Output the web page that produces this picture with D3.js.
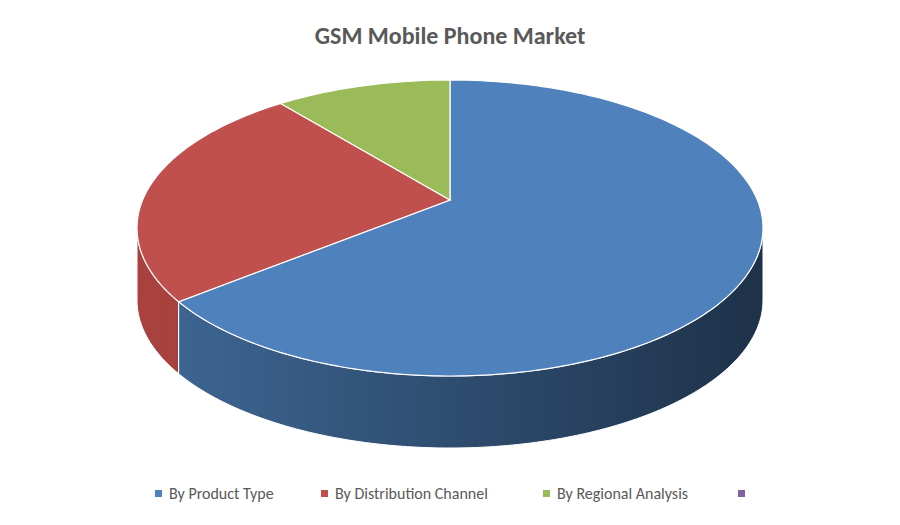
<!DOCTYPE html>
<html><head><meta charset="utf-8">
<script src="https://cdn.jsdelivr.net/npm/d3@7"></script>
<style>body{margin:0;background:#fff}</style>
</head><body>
<svg id="chart" width="900" height="525"></svg>
<script>
const categories = ["By Product Type", "By Distribution Channel", "By Regional Analysis", ""];
const values = [66.7, 24.2, 9.1, 0];
const topColors = ["#4f81bd", "#c0504d", "#9bbb59", "#8064a2"];
const sideColors = [["#3f6897", "#1e3249"], ["#a9423f", "#8f3a38"], ["#7d9a46", "#6a8a3a"], ["#664f85", "#55406f"]];

const svg = d3.select("#chart");
const cx = 450, cy = 228, rx = 313, ry = 148, depth = 72;
const apex = [450, 200];

svg.append("text").attr("x", 450).attr("y", 44).attr("text-anchor", "middle")
  .attr("font-family", "Calibri, Carlito, 'Open Sans', sans-serif").attr("font-weight", "bold")
  .attr("font-size", 24).attr("fill", "#595959").text("GSM Mobile Phone Market");

const pie = d3.pie().sort(null).value(d => d)(values);
const pt = (a, dy = 0) => [cx + rx * Math.sin(a), cy - ry * Math.cos(a) + dy];

const defs = svg.append("defs");
pie.forEach((p, i) => {
  const g = defs.append("linearGradient").attr("id", "side" + i)
    .attr("gradientUnits", "userSpaceOnUse").attr("x1", cx - rx).attr("x2", cx + rx).attr("y1", 0).attr("y2", 0);
  g.append("stop").attr("offset", "0%").attr("stop-color", sideColors[i][0]);
  g.append("stop").attr("offset", "100%").attr("stop-color", sideColors[i][1]);
});

function arcPts(a0, a1, dy) {
  const n = Math.max(2, Math.ceil((a1 - a0) / 0.02));
  return d3.range(n + 1).map(k => pt(a0 + (a1 - a0) * k / n, dy));
}

// side walls (front half: PI/2 .. 3PI/2)
pie.forEach((p, i) => {
  const a0 = Math.max(p.startAngle, Math.PI / 2), a1 = Math.min(p.endAngle, 3 * Math.PI / 2);
  if (a1 <= a0) return;
  const top = arcPts(a0, a1, 0), bot = arcPts(a0, a1, depth).reverse();
  svg.append("path").attr("d", d3.line()(top.concat(bot)) + "Z")
    .attr("fill", `url(#side${i})`).attr("stroke", "#fff").attr("stroke-width", 1);
});

// top faces
pie.forEach((p, i) => {
  if (p.endAngle - p.startAngle <= 0) return;
  const pts = [apex].concat(arcPts(p.startAngle, p.endAngle, 0));
  svg.append("path").attr("d", d3.line()(pts) + "Z")
    .attr("fill", topColors[i]).attr("stroke", "#fff").attr("stroke-width", 1.2);
});

// legend
const leg = svg.append("g").attr("font-family", "Calibri, Carlito, 'Open Sans', sans-serif")
  .attr("font-size", 16).attr("fill", "#595959");
const xs = [155, 321, 543, 738];
categories.forEach((c, i) => {
  leg.append("rect").attr("x", xs[i]).attr("y", 490).attr("width", 7).attr("height", 7).attr("fill", topColors[i]);
  leg.append("text").attr("x", xs[i] + 14).attr("y", 499).text(c);
});
</script>
</body></html>
